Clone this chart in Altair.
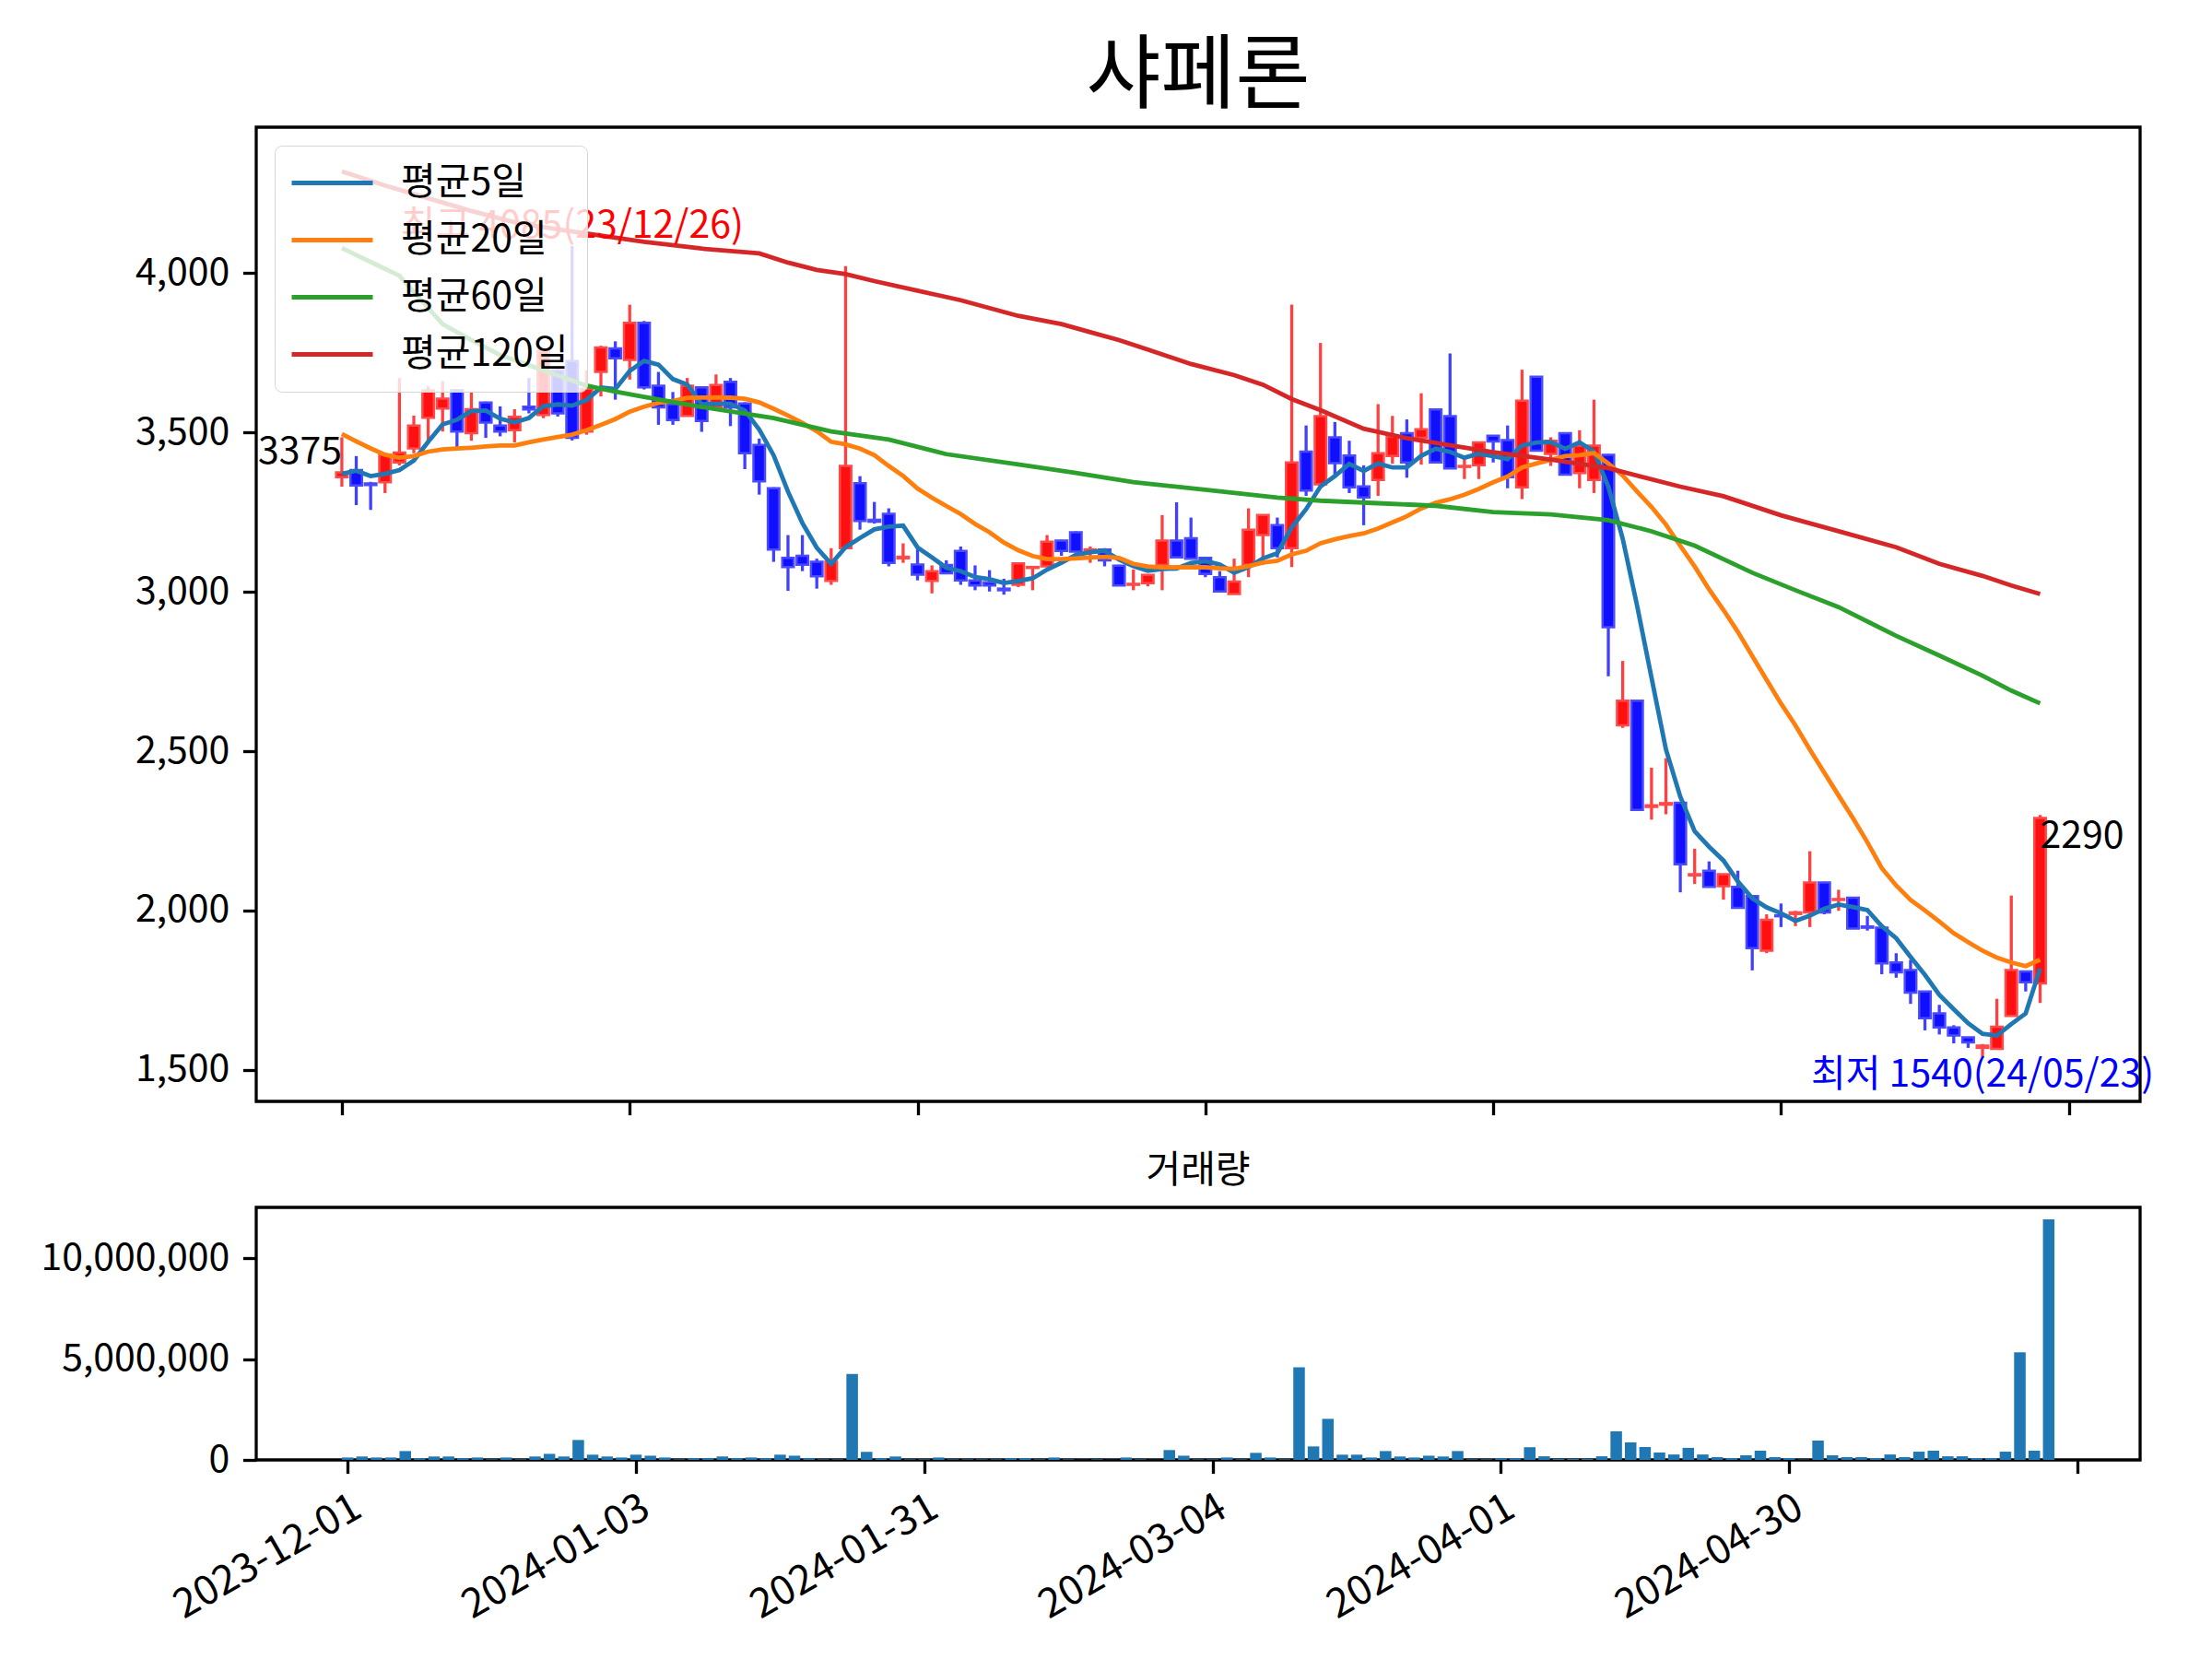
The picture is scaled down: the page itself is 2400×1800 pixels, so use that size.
import json
import altair as alt
import numpy as np
import pandas as pd

FONT = "Noto Sans CJK KR"

opens = [3360, 3382, 3340, 3344, 3406, 3450, 3546, 3575, 3632, 3498,
         3594, 3522, 3507, 3581, 3555, 3695, 3724, 3503, 3690, 3764,
         3728, 3844, 3647, 3589, 3552, 3642, 3579, 3659, 3591, 3461,
         3325, 3107, 3113, 3094, 3034, 3137, 3341, 3226, 3245, 3105,
         3086, 3034, 3084, 3128, 3036, 3030, 3010, 3022, 3075, 3080,
         3161, 3187, 3130, 3133, 3082, 3022, 3027, 3084, 3161, 3168,
         3107, 3046, 2993, 3085, 3178, 3209, 3137, 3440, 3337, 3485,
         3428, 3331, 3351, 3426, 3498, 3483, 3572, 3551, 3392, 3397,
         3490, 3476, 3328, 3675, 3433, 3498, 3373, 3351, 3430, 2581,
         2658, 2325, 2332, 2338, 2110, 2125, 2076, 2074, 2045, 1874,
         1985, 1989, 1994, 2088, 2033, 2040, 1950, 1946, 1837, 1813,
         1746, 1677, 1633, 1602, 1569, 1566, 1669, 1809, 1771]
highs = [3485, 3426, 3345, 3430, 3671, 3553, 3644, 3661, 3635, 3627,
         3597, 3582, 3573, 3671, 3765, 3700, 4085, 3695, 3772, 3786,
         3901, 3850, 3690, 3627, 3671, 3645, 3682, 3671, 3595, 3481,
         3328, 3178, 3178, 3104, 3137, 4022, 3363, 3282, 3262, 3152,
         3135, 3083, 3099, 3142, 3083, 3068, 3041, 3091, 3080, 3178,
         3163, 3190, 3142, 3137, 3085, 3070, 3053, 3241, 3281, 3233,
         3108, 3065, 3104, 3262, 3243, 3233, 3901, 3522, 3781, 3533,
         3474, 3397, 3589, 3552, 3541, 3623, 3574, 3748, 3424, 3469,
         3492, 3522, 3697, 3676, 3485, 3500, 3507, 3603, 3432, 2783,
         2660, 2448, 2478, 2340, 2194, 2154, 2115, 2125, 2046, 1988,
         2022, 1999, 2186, 2090, 2065, 2042, 1983, 1948, 1866, 1845,
         1748, 1704, 1640, 1603, 1581, 1723, 2047, 1810, 2300]
lows = [3330, 3272, 3257, 3310, 3397, 3435, 3464, 3503, 3454, 3474,
        3483, 3488, 3469, 3560, 3545, 3550, 3475, 3493, 3613, 3603,
        3666, 3635, 3524, 3524, 3551, 3502, 3577, 3520, 3385, 3305,
        3094, 3003, 3065, 3010, 3022, 3133, 3195, 3214, 3080, 3091,
        3036, 2995, 3056, 3022, 3005, 3001, 2991, 3015, 3005, 3078,
        3113, 3124, 3091, 3080, 3018, 3005, 3017, 3005, 3106, 3103,
        3046, 2998, 2993, 3046, 3085, 3108, 3078, 3301, 3335, 3368,
        3310, 3209, 3301, 3402, 3358, 3399, 3404, 3387, 3354, 3354,
        3406, 3325, 3291, 3440, 3395, 3366, 3325, 3310, 2735, 2573,
        2314, 2285, 2302, 2057, 2083, 2074, 2034, 2008, 1812, 1866,
        1948, 1951, 1948, 1988, 1999, 1943, 1937, 1800, 1789, 1707,
        1624, 1611, 1583, 1569, 1540, 1563, 1668, 1746, 1710]
closes = [3375, 3334, 3335, 3430, 3437, 3522, 3632, 3606, 3503, 3573,
          3531, 3503, 3549, 3572, 3757, 3560, 3483, 3637, 3767, 3733,
          3844, 3642, 3579, 3539, 3647, 3536, 3649, 3579, 3435, 3347,
          3133, 3078, 3085, 3049, 3094, 3395, 3222, 3220, 3091, 3110,
          3054, 3065, 3058, 3036, 3020, 3020, 3005, 3089, 3078, 3157,
          3128, 3126, 3133, 3099, 3020, 3025, 3053, 3161, 3108, 3104,
          3056, 3001, 3032, 3195, 3241, 3137, 3406, 3318, 3551, 3404,
          3328, 3296, 3435, 3488, 3406, 3510, 3406, 3387, 3395, 3469,
          3472, 3360, 3600, 3443, 3474, 3368, 3459, 3459, 2889, 2658,
          2316, 2330, 2337, 2145, 2114, 2074, 2114, 2008, 1882, 1971,
          1982, 1994, 2088, 1994, 2036, 1943, 1946, 1834, 1806, 1742,
          1662, 1633, 1608, 1586, 1576, 1635, 1813, 1775, 2290]
volumes = [120000, 170000, 120000, 120000, 440000, 80000, 170000, 170000, 80000, 120000,
           30000, 120000, 30000, 170000, 300000, 170000, 990000, 260000, 170000, 120000,
           260000, 210000, 120000, 30000, 80000, 80000, 170000, 80000, 120000, 80000,
           260000, 210000, 80000, 30000, 30000, 4270000, 400000, 80000, 170000, 30000,
           30000, 120000, 30000, 30000, 30000, 30000, 80000, 80000, 30000, 120000,
           30000, 10000, 30000, 10000, 120000, 30000, 10000, 490000, 210000, 30000,
           30000, 120000, 30000, 350000, 120000, 30000, 4600000, 670000, 2040000, 260000,
           260000, 120000, 440000, 170000, 120000, 210000, 170000, 440000, 30000, 30000,
           80000, 80000, 630000, 180000, 50000, 50000, 50000, 180000, 1420000, 870000,
           640000, 370000, 270000, 600000, 270000, 140000, 90000, 230000, 460000, 140000,
           90000, 20000, 960000, 230000, 140000, 140000, 90000, 270000, 140000, 410000,
           460000, 180000, 180000, 90000, 90000, 410000, 5340000, 460000, 11940000]

ma5_head = [3370, 3380, 3363, 3370]
ma20_head = [3495, 3472, 3450, 3430, 3421, 3426, 3440, 3447, 3450, 3452,
             3456, 3459, 3459, 3469, 3478, 3486, 3493, 3507, 3524]
ma60_idx = [0, 2, 4, 7, 9, 11, 14, 17, 19, 21, 25, 30, 34, 38, 42, 47, 51, 55, 60,
            65, 68, 72, 76, 80, 84, 88, 91, 94, 98, 101, 104, 108, 111, 114, 116, 118]
ma60_val = [4079, 4035, 3992, 3840, 3790, 3743, 3695, 3647, 3628, 3612, 3580, 3545,
            3503, 3478, 3432, 3400, 3373, 3344, 3320, 3296, 3286, 3278, 3270, 3250,
            3243, 3225, 3190, 3145, 3060, 3005, 2952, 2862, 2800, 2737, 2690, 2650]
ma120_idx = [0, 3, 6, 9, 12, 15, 18, 21, 25, 29, 31, 33, 35, 37, 40, 43, 47, 50, 52,
             54, 56, 59, 62, 64, 66, 68, 71, 74, 77, 80, 84, 88, 93, 96, 100, 104,
             108, 111, 114, 116, 118]
ma120_val = [4319, 4275, 4235, 4195, 4160, 4137, 4118, 4098, 4077, 4062, 4033, 4010,
             3997, 3975, 3945, 3915, 3866, 3840, 3815, 3790, 3760, 3715, 3680, 3650,
             3605, 3570, 3512, 3482, 3460, 3438, 3415, 3388, 3330, 3300, 3240, 3190,
             3140, 3088, 3050, 3020, 2993]

ma_names = ["평균5일", "평균20일", "평균60일", "평균120일"]
ma_colors = ["#1f77b4", "#ff7f0e", "#2ca02c", "#d62728"]

tick_pos = [0, 20, 40, 60, 80, 100, 120]
tick_labels = ["2023-12-01", "2024-01-03", "2024-01-31", "2024-03-04",
               "2024-04-01", "2024-04-30", ""]
high_date = "23/12/26"
low_date = "24/05/23"

W = 2044
H_MAIN = 1057
H_VOL = 274
FS = 41
EXT = 238
TICK = 14.6
LW = 3.3

n = len(closes)
idx = list(range(n))
df = pd.DataFrame({"i": idx, "open": opens, "high": highs, "low": lows,
                   "close": closes, "volume": volumes})
df["xl"] = df["i"] - 0.4
df["xr"] = df["i"] + 0.4
df["top"] = df[["open", "close"]].max(axis=1)
df["bot"] = df[["open", "close"]].min(axis=1)
up = df[df["close"] >= df["open"]]
dn = df[df["close"] < df["open"]]

cs = pd.Series(closes, dtype=float)
ma5 = cs.rolling(5).mean()
ma5.iloc[:4] = ma5_head
ma20 = cs.rolling(20).mean()
ma20.iloc[:19] = ma20_head
lines = pd.concat([
    pd.DataFrame({"i": idx, "v": ma5.values, "s": ma_names[0]}),
    pd.DataFrame({"i": idx, "v": ma20.values, "s": ma_names[1]}),
    pd.DataFrame({"i": ma60_idx, "v": ma60_val, "s": ma_names[2]}),
    pd.DataFrame({"i": ma120_idx, "v": ma120_val, "s": ma_names[3]}),
], ignore_index=True)

hi_i = int(np.argmax(highs))
lo_i = int(np.argmin(lows))
ann_first = pd.DataFrame({"i": [0], "y": [closes[0]], "t": [str(closes[0])]})
ann_last = pd.DataFrame({"i": [n - 1], "y": [closes[-1]], "t": [str(closes[-1])]})
ann_hi = pd.DataFrame({"i": [hi_i], "y": [highs[hi_i]], "t": [f"최고 {highs[hi_i]}({high_date})"]})
ann_lo = pd.DataFrame({"i": [lo_i], "y": [lows[lo_i]], "t": [f"최저 {lows[lo_i]}({low_date})"]})

xs_main = alt.Scale(domain=[-5.95, 124.95], nice=False, zero=False)
ys_main = alt.Scale(domain=[1401, 4458], nice=False, zero=False)

x_main_axis = alt.Axis(values=tick_pos, labels=False, ticks=True, tickSize=TICK,
                       tickWidth=LW, tickColor="black", domain=False, grid=False, title=None)
y_main_axis = alt.Axis(values=[1500, 2000, 2500, 3000, 3500, 4000], format=",d",
                       tickSize=TICK, tickWidth=LW, tickColor="black", domain=False,
                       grid=False, title=None, labelFontSize=FS, labelPadding=TICK,
                       labelColor="black", labelFont=FONT, labelLimit=0,
                       minExtent=EXT, maxExtent=EXT)

X = alt.X("i:Q", scale=xs_main, axis=x_main_axis)

wick_up = alt.Chart(up).mark_rule(color="#ff4040", strokeWidth=LW).encode(
    x=X, y=alt.Y("low:Q", scale=ys_main, axis=y_main_axis), y2="high:Q")
wick_dn = alt.Chart(dn).mark_rule(color="#4040ff", strokeWidth=LW).encode(
    x=X, y=alt.Y("low:Q", scale=ys_main, axis=y_main_axis), y2="high:Q")
body_up = alt.Chart(up).mark_bar(color="#ff1010", stroke="#ff4a4a", strokeWidth=2.5).encode(
    x=alt.X("xl:Q", scale=xs_main, axis=x_main_axis), x2="xr:Q",
    y=alt.Y("bot:Q", scale=ys_main, axis=y_main_axis), y2="top:Q")
body_dn = alt.Chart(dn).mark_bar(color="#1010ff", stroke="#4a4aff", strokeWidth=2.5).encode(
    x=alt.X("xl:Q", scale=xs_main, axis=x_main_axis), x2="xr:Q",
    y=alt.Y("bot:Q", scale=ys_main, axis=y_main_axis), y2="top:Q")

legend = alt.Legend(orient="top-left", offset=20, title=None, symbolType="M-4,0H4",
                    symbolSize=484, symbolStrokeWidth=4.8, symbolFillColor="transparent",
                    symbolOffset=22,
                    labelFontSize=FS, labelFont=FONT, labelColor="black",
                    labelOffset=54, labelLimit=0,
                    fillColor="rgba(255,255,255,0.8)", strokeColor="#d6d6d6",
                    cornerRadius=8, padding=20, rowPadding=20)
ma_lines = alt.Chart(lines).mark_line(strokeWidth=4.8).encode(
    x=X, y=alt.Y("v:Q", scale=ys_main, axis=y_main_axis),
    color=alt.Color("s:N", scale=alt.Scale(domain=ma_names, range=ma_colors),
                    sort=ma_names, legend=legend),
    order="i:Q")


def ann(data, align, baseline, color):
    return alt.Chart(data).mark_text(align=align, baseline=baseline, fontSize=FS,
                                     font=FONT, color=color).encode(
        x=X, y=alt.Y("y:Q", scale=ys_main, axis=y_main_axis), text="t:N")


main = alt.layer(
    wick_up, wick_dn, body_up, body_dn, ma_lines,
    ann(ann_first, "right", "bottom", "black"),
    ann(ann_last, "left", "top", "black"),
    ann(ann_hi, "center", "bottom", "red"),
    ann(ann_lo, "center", "top", "blue"),
).properties(
    width=W, height=H_MAIN,
    title=alt.TitleParams("샤페론", fontSize=88, fontWeight="normal", font=FONT,
                          color="black", anchor="middle", frame="group", offset=10))

label_expr = json.dumps(tick_labels) + "[round(datum.value / 20)]"
xs_vol = alt.Scale(domain=[-6.34, 124.34], nice=False, zero=False)
vol = alt.Chart(df).mark_bar(color="#1f77b4").encode(
    x=alt.X("xl:Q", scale=xs_vol,
            axis=alt.Axis(values=tick_pos, labelExpr=label_expr, labelAngle=330,
                          labelAlign="right", labelBaseline="top", labelFontSize=44,
                          labelFont=FONT, labelColor="black", labelPadding=TICK,
                          labelLimit=0, tickSize=TICK, tickWidth=LW, tickColor="black",
                          domain=False, grid=False, title=None)),
    x2="xr:Q",
    y=alt.Y("volume:Q", scale=alt.Scale(domain=[0, 12540000], nice=False, zero=True),
            axis=alt.Axis(values=[0, 5000000, 10000000], format=",d", tickSize=TICK,
                          tickWidth=LW, tickColor="black", domain=False, grid=False,
                          title=None, labelFontSize=FS, labelFont=FONT, labelLimit=0,
                          labelColor="black", labelPadding=TICK,
                          minExtent=EXT, maxExtent=EXT)),
    y2=alt.datum(0),
).properties(
    width=W, height=H_VOL,
    title=alt.TitleParams("거래량", fontSize=FS, fontWeight="normal", font=FONT,
                          color="black", anchor="middle", frame="group", offset=18))

chart = alt.vconcat(main, vol, spacing=35).properties(
    padding={"left": 30, "top": 30, "right": 10, "bottom": 10},
    background="white",
).configure(font=FONT).configure_view(stroke="black", strokeWidth=LW)

chart.save("out.html", embed_options={"renderer": "svg", "actions": False})
